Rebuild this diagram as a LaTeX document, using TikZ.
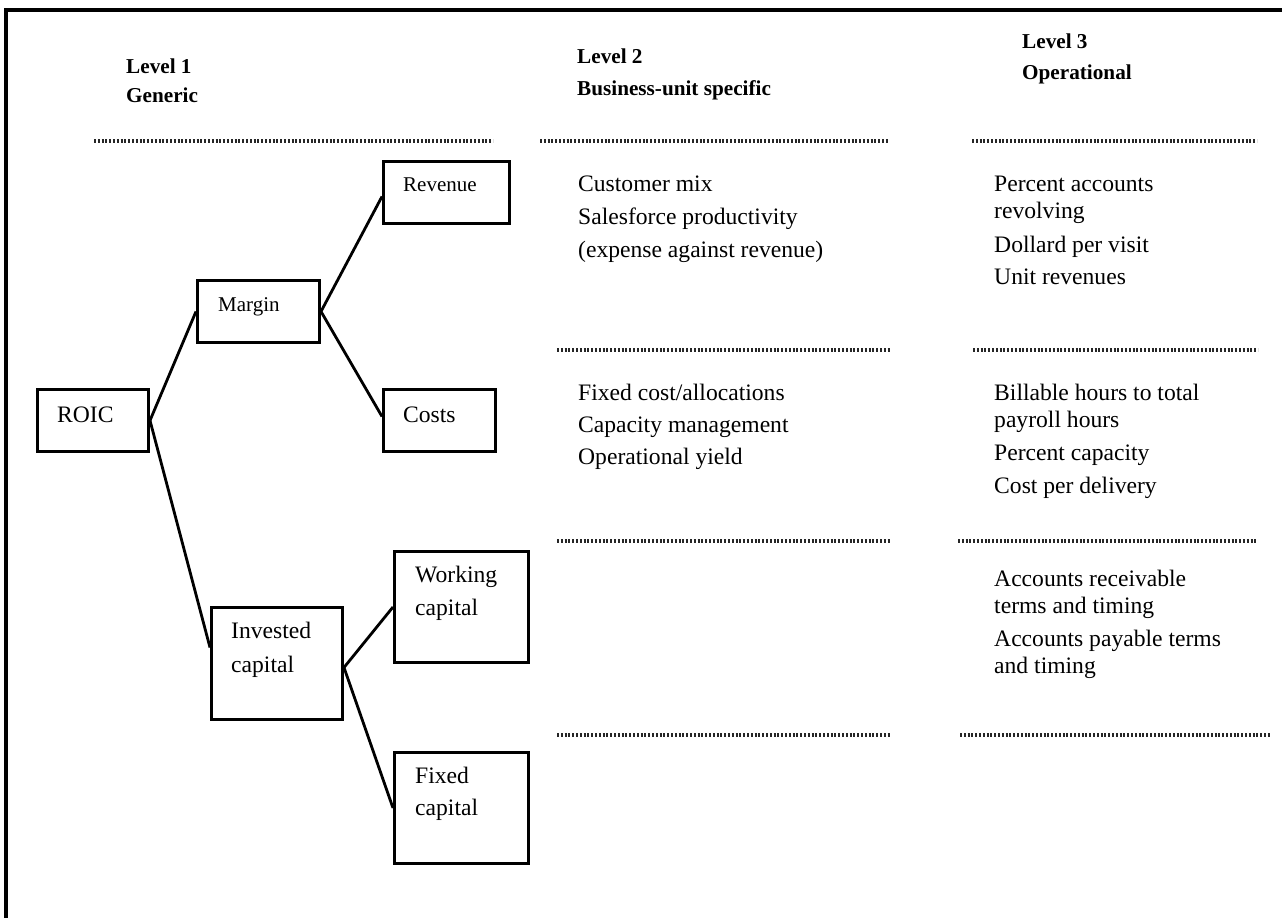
\documentclass[tikz,border=0pt]{standalone}
\usepackage{fontspec}
\setmainfont{Liberation Serif}
\begin{document}
\begin{tikzpicture}[x=1pt,y=-1pt,
  box/.style={draw, line width=3pt, rectangle, inner sep=0pt, anchor=north west},
  conn/.style={line width=2.8pt},
  dotline/.style={line width=3.2pt, dash pattern=on 2pt off 1.8pt, black!85},
  hdr/.style={anchor=base west, inner sep=0pt, font=\fontsize{21.2}{25}\selectfont\bfseries},
  body/.style={anchor=base west, inner sep=0pt, font=\fontsize{23.6}{27}\selectfont},
  small/.style={anchor=base west, inner sep=0pt, font=\fontsize{21}{25}\selectfont}]
\useasboundingbox (0,0) rectangle (1282,918);
\clip (0,0) rectangle (1282,918);
\draw[line width=3.2pt] (6,940) -- (6,10) -- (1300,10);

% headers
\node[hdr] (h1a) at (126,73) {Level 1};
\node[hdr] (h1b) at (126,102) {Generic};
\node[hdr] (h2a) at (577,63) {Level 2};
\node[hdr] (h2b) at (577,95) {Business-unit specific};
\node[hdr] (h3a) at (1022,48) {Level 3};
\node[hdr] (h3b) at (1022,79) {Operational};

% dotted separators
\draw[dotline] (94,141) -- (493,141);
\draw[dotline] (540,141) -- (889,141);
\draw[dotline] (972,141) -- (1257,141);
\draw[dotline] (557,350) -- (890,350);
\draw[dotline] (973,350) -- (1258,350);
\draw[dotline] (557,541) -- (890,541);
\draw[dotline] (958,541) -- (1257,541);
\draw[dotline] (557,735) -- (890,735);
\draw[dotline] (960,735) -- (1270,735);

% boxes
\node[box, minimum width=111pt, minimum height=62pt] (roic) at (36,388) {};
\node[box, minimum width=122pt, minimum height=62pt] (margin) at (196,279) {};
\node[box, minimum width=126pt, minimum height=62pt] (rev) at (382,160) {};
\node[box, minimum width=112pt, minimum height=62pt] (costs) at (382,388) {};
\node[box, minimum width=131pt, minimum height=112pt] (inv) at (210,606) {};
\node[box, minimum width=134pt, minimum height=111pt] (work) at (393,550) {};
\node[box, minimum width=134pt, minimum height=111pt] (fixed) at (393,751) {};

% box texts
\node[body] (troic) at (57,422) {ROIC};
\node[small] (tmargin) at (218,311) {Margin};
\node[small] (trev) at (403,191) {Revenue};
\node[body] (tcosts) at (403,422) {Costs};
\node[body] (tinv1) at (231,638) {Invested};
\node[body] (tinv2) at (231,672) {capital};
\node[body] (twork1) at (415,582) {Working};
\node[body] (twork2) at (415,615) {capital};
\node[body] (tfix1) at (415,783) {Fixed};
\node[body] (tfix2) at (415,815) {capital};

% connectors
\draw[conn] (roic.east) -- (margin.west);
\draw[conn] (roic.east) -- ([yshift=16pt]inv.west);
\draw[conn] (margin.east) -- ([yshift=-4pt]rev.west);
\draw[conn] (margin.east) -- ([yshift=4pt]costs.west);
\draw[conn] ([yshift=-4pt]inv.east) -- (work.west);
\draw[conn] ([yshift=-4pt]inv.east) -- (fixed.west);

% level 2 texts
\node[body] (a1) at (578,191) {Customer mix};
\node[body] (a2) at (578,224) {Salesforce productivity};
\node[body] (a3) at (578,257) {(expense against revenue)};
\node[body] (b1) at (578,400) {Fixed cost/allocations};
\node[body] (b2) at (578,432) {Capacity management};
\node[body] (b3) at (578,464) {Operational yield};

% level 3 texts
\node[body] (c1) at (994,191) {Percent accounts};
\node[body] (c2) at (994,218) {revolving};
\node[body] (c3) at (994,252) {Dollard per visit};
\node[body] (c4) at (994,284) {Unit revenues};
\node[body] (d1) at (994,400) {Billable hours to total};
\node[body] (d2) at (994,427) {payroll hours};
\node[body] (d3) at (994,460) {Percent capacity};
\node[body] (d4) at (994,493) {Cost per delivery};
\node[body] (e1) at (994,586) {Accounts receivable};
\node[body] (e2) at (994,613) {terms and timing};
\node[body] (e3) at (994,646) {Accounts payable terms};
\node[body] (e4) at (994,673) {and timing};
\end{tikzpicture}
\end{document}
